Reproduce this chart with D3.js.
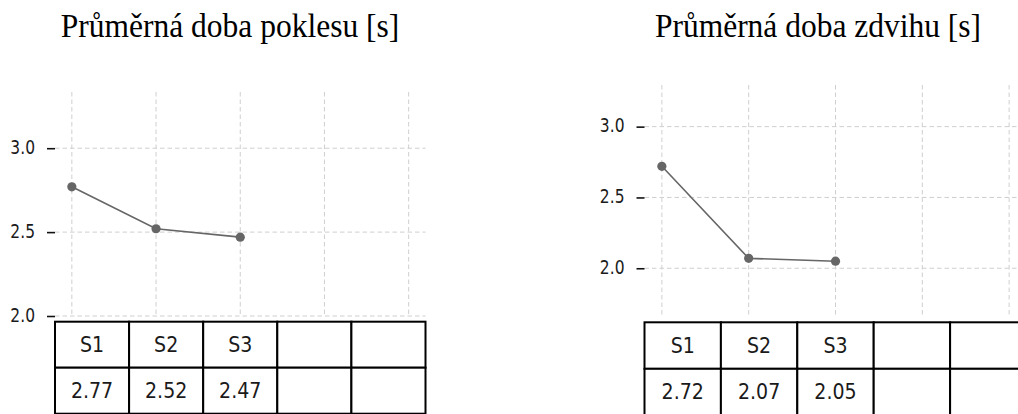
<!DOCTYPE html>
<html>
<head>
<meta charset="utf-8">
<script src="https://cdn.jsdelivr.net/npm/d3@7"></script>
<style>
  html, body { margin: 0; padding: 0; background: #fff; }
  svg { display: block; }
</style>
</head>
<body>
<svg id="chart" width="1018" height="414"></svg>
<script>
// Stations shown in the table header row (last two slots are empty)
const categories = ["S1", "S2", "S3", "", ""];
// Mean drop time per station [s]
const dropTimes = [2.77, 2.52, 2.47];
// Mean lift time per station [s]
const liftTimes = [2.72, 2.07, 2.05];
// Y-axis tick values
const yTicks = [2.0, 2.5, 3.0];
const panelTitles = ["Průměrná doba poklesu [s]", "Průměrná doba zdvihu [s]"];

const svg = d3.select("#chart");

const panels = [
  { title: panelTitles[0], values: dropTimes, titleX: 230,
    x0: 55, x1: 425.5, yTop: 92, yBot: 316, yDomain: [2.0, 3.335],
    tableTop: 321.7, rowH: 46 },
  { title: panelTitles[1], values: liftTimes, titleX: 818,
    x0: 644.5, x1: 1026.5, yTop: 85, yBot: 316.7, yDomain: [1.658, 3.294],
    tableTop: 322.3, rowH: 46.5 }
];

const sans = "'DejaVu Sans', sans-serif";

panels.forEach(p => {
  const g = svg.append("g");
  const idx = d3.range(categories.length);
  const x = d3.scaleLinear().domain([-0.2, categories.length - 1 + 0.2]).range([p.x0, p.x1]);
  const y = d3.scaleLinear().domain(p.yDomain).range([p.yBot, p.yTop]);

  // title
  g.append("text")
    .attr("transform", `translate(${p.titleX},37) scale(1,1.04)`)
    .attr("text-anchor", "middle")
    .style("font-family", "'Liberation Serif', 'Times New Roman', serif")
    .style("font-size", "31.5px")
    .attr("fill", "#000")
    .text(p.title);

  // grid
  g.selectAll(".vgrid").data(idx).join("line")
    .attr("x1", d => x(d)).attr("x2", d => x(d))
    .attr("y1", p.yTop).attr("y2", p.yBot)
    .attr("stroke", "#cfcfcf").attr("stroke-width", 1)
    .attr("stroke-dasharray", "4.5,3");
  g.selectAll(".hgrid").data(yTicks).join("line")
    .attr("x1", p.x0).attr("x2", p.x1)
    .attr("y1", d => y(d)).attr("y2", d => y(d))
    .attr("stroke", "#cfcfcf").attr("stroke-width", 1)
    .attr("stroke-dasharray", "4.5,3");

  // y axis (ticks + labels only, no spine)
  const ax = g.append("g")
    .attr("transform", `translate(${p.x0},0)`)
    .call(d3.axisLeft(y).tickValues(yTicks).tickFormat(d3.format(".1f"))
      .tickSizeInner(8).tickSizeOuter(0).tickPadding(12));
  ax.select(".domain").remove();
  ax.selectAll(".tick line").attr("stroke", "#111").attr("stroke-width", 1.6);
  ax.selectAll(".tick text")
    .attr("dy", "0.28em")
    .attr("transform", "scale(1,1.2)")
    .style("font-family", sans)
    .style("font-size", "15.5px")
    .attr("fill", "#1a1a1a");

  // series line + markers
  const line = d3.line().x((d, i) => x(i)).y(d => y(d));
  g.append("path").datum(p.values)
    .attr("d", line)
    .attr("fill", "none")
    .attr("stroke", "#666")
    .attr("stroke-width", 1.6);
  g.selectAll(".pt").data(p.values).join("circle")
    .attr("cx", (d, i) => x(i)).attr("cy", d => y(d))
    .attr("r", 4.6).attr("fill", "#666");

  // table below the plot
  const colW = (p.x1 - p.x0) / categories.length;
  const cellX = i => p.x0 + i * colW;
  const rows = [categories, categories.map((c, i) => i < p.values.length ? p.values[i].toFixed(2) : "")];
  rows.forEach((row, r) => {
    const top = p.tableTop + r * p.rowH;
    g.selectAll(null).data(row).join("rect")
      .attr("x", (d, i) => cellX(i)).attr("y", top)
      .attr("width", colW).attr("height", p.rowH)
      .attr("fill", "#fff").attr("stroke", "#000").attr("stroke-width", 2);
    g.selectAll(null).data(row).join("text")
      .attr("transform", (d, i) => `translate(${cellX(i) + colW / 2},${top + p.rowH / 2}) scale(1,1.08)`)
      .attr("text-anchor", "middle")
      .attr("dy", "0.36em")
      .style("font-family", sans)
      .style("font-size", "19px")
      .attr("fill", "#1a1a1a")
      .text(d => d);
  });
});
</script>
</body>
</html>
